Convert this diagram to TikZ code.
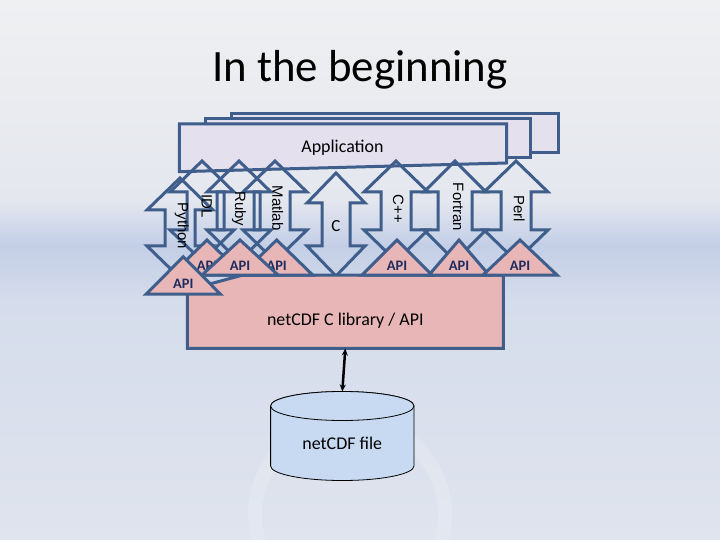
\documentclass[tikz,border=0pt]{standalone}
\usepackage{fontspec}
\setmainfont{Carlito}
\newfontfamily\labfont{Liberation Sans}
\usepackage{xcolor}
\definecolor{frameBlue} {HTML}{3F5E8C}
\definecolor{appBack}   {HTML}{E4E0EE}
\definecolor{libBack}   {HTML}{E8B6B6}
\definecolor{fileBack}  {HTML}{C7DAF1}
\definecolor{apiText}   {HTML}{1E2B5E}
\definecolor{bgTop}     {HTML}{EFF0F2}
\definecolor{bgMid}     {HTML}{E4E7EE}
\definecolor{bgBand}    {HTML}{C3CFE7}
\definecolor{bgLow}     {HTML}{D5DCEB}
\definecolor{bgBottom}  {HTML}{DFE4EE}
\usetikzlibrary{arrows.meta}

\begin{document}
\begin{tikzpicture}[x=1bp, y=-1bp,
    every node/.style={font=\fontsize{18}{20}\selectfont, inner sep=0pt},
    frame/.style={draw=frameBlue, line width=3bp, line join=miter},
    lang/.style={rotate=-90, font=\labfont\fontsize{15}{17}\selectfont},
    api/.style={font=\fontsize{14.5}{16}\selectfont\bfseries, apiText},
    cyl/.style={draw=black, line width=0.8bp, fill=fileBack},
    arr/.style={{Stealth[length=7bp,width=6bp]}-{Stealth[length=7bp,width=6bp]},
                line width=2.5bp, black}
]
\useasboundingbox (0,0) rectangle (720,540);
% Background
\shade[top color=bgTop, bottom color=bgMid] (0,0) rectangle (720,200.5);
\shade[top color=bgMid, bottom color=bgBand] (0,200) rectangle (720,245.5);
\shade[top color=bgBand, bottom color=bgLow] (0,245) rectangle (720,300.5);
\shade[top color=bgLow, bottom color=bgBottom] (0,300) rectangle (720,540);
\draw[white, opacity=0.15, line width=14bp] (350,515) circle (95);
% Title
\node[font=\fontsize{45}{54}\selectfont, anchor=base] (title) at (360,81.7) {In the beginning};
% Application stack
\draw[frame, fill=appBack] (231.7,114) rectangle (558,152.7);
\draw[frame, fill=appBack] (205.7,119) rectangle (530.7,158);
\draw[frame, fill=appBack] (179.3,124) -- (506.7,124) -- (506.7,163) -- (179.3,171.7) -- cycle;
\node (app) at (342.5,148) {Application};
% Language bindings (up-down arrows)
\foreach \cx/\ty/\hw/\sw/\hh/\len in {180/178/33/15/32/100, 202/161/32/15/31/100,
    239/161/32/15/31/100, 275/161/32/15/31/100, 336/173/29/14/30/103,
    396/161/32/15/31/100, 455/161/31/17/31/100, 516/161/32/15/31/100} {
    \draw[frame] (\cx,\ty) -- (\cx+\hw,\ty+\hh) -- (\cx+\sw,\ty+\hh)
        -- (\cx+\sw,\ty+\len-\hh) -- (\cx+\hw,\ty+\len-\hh) -- (\cx,\ty+\len)
        -- (\cx-\hw,\ty+\len-\hh) -- (\cx-\sw,\ty+\len-\hh) -- (\cx-\sw,\ty+\hh)
        -- (\cx-\hw,\ty+\hh) -- cycle;
}
\foreach \nm/\tx/\x/\y in {python/Python/181.7/226, idl/IDL/206.7/206, ruby/Ruby/239/209,
    matlab/Matlab/277.7/208, cpp/C++/398.3/209, fortran/Fortran/458.3/207, perl/Perl/519.3/209} {
    \node[lang] (l\nm) at (\x,\y) {\tx};
}
\node[font=\fontsize{17}{19}\selectfont] (lc) at (336,226) {C};
% netCDF C library
\draw[frame, fill=libBack] (187.3,290) -- (243,275) -- (503.3,275) -- (503.3,348.3)
    -- (187.3,348.3) -- cycle;
\node[minimum width=316bp, minimum height=56bp] (lib) at (345.3,320.3) {netCDF C library / API};
% API wedges
\foreach \nm/\cx/\ty/\hw/\h in {matlab/276.7/240/36/35, idl/207/240/36/35, ruby/240/240/38/35,
    cpp/397/240/35/35, fortran/459/240/30/35, perl/520/240/37/35, python/183.3/256.7/37/37.3} {
    \draw[frame, fill=libBack] (\cx,\ty) -- (\cx+\hw,\ty+\h) -- (\cx-\hw,\ty+\h) -- cycle;
    \node[api] (a\nm) at (\cx,\ty+0.74*\h) {API};
}
% netCDF file
\draw[cyl] (270.6,406) -- (270.6,466) arc (180:0:71.7 and 14.5) -- (414,406)
    arc (0:-180:71.7 and 14.5) -- cycle;
\draw[cyl] (342.3,406) ellipse (71.7 and 14.5);
\node[minimum width=143bp, minimum height=102.6bp] (file) at (342.3,443) {netCDF file};
\draw[arr] (lib.south) -- (file.north);
\end{tikzpicture}
\end{document}
